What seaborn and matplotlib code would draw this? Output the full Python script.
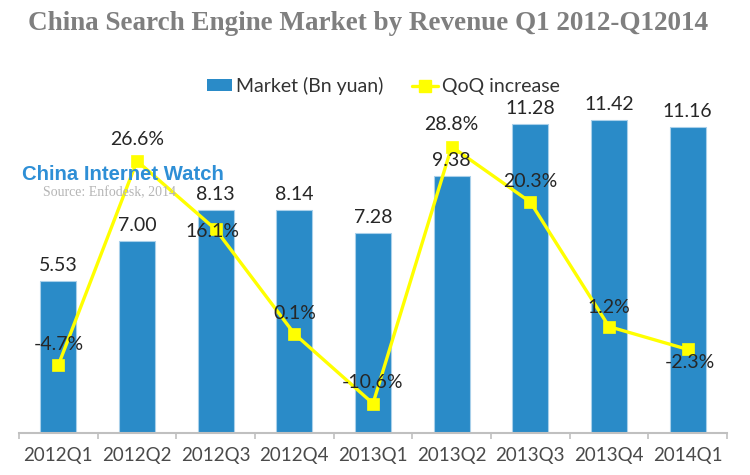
import matplotlib
matplotlib.use("Agg")
import matplotlib.pyplot as plt
from matplotlib.lines import Line2D
from matplotlib.patches import Patch
import numpy as np
import pandas as pd
import seaborn as sns

quarters = ["2012Q1", "2012Q2", "2012Q3", "2012Q4", "2013Q1", "2013Q2", "2013Q3", "2013Q4", "2014Q1"]
market = [5.53, 7.00, 8.13, 8.14, 7.28, 9.38, 11.28, 11.42, 11.16]
qoq = [-4.7, 26.6, 16.1, 0.1, -10.6, 28.8, 20.3, 1.2, -2.3]
title = "China Search Engine Market by Revenue Q1 2012-Q12014"
bar_name = "Market (Bn yuan)"
line_name = "QoQ increase"

BLUE = "#2a8bc8"
YELLOW = "#ffff00"
W, H = 750, 475

sns.set_theme(style="white")
plt.rcParams["font.family"] = ["Lato", "DejaVu Sans"]

df = pd.DataFrame({"quarter": quarters, "market": market, "qoq": qoq})
fig = plt.figure(figsize=(W / 100, H / 100), dpi=100)
ax = fig.add_axes([19 / W, (H - 433) / H, 708 / W, 384 / H])
sns.barplot(data=df, x="quarter", y="market", ax=ax, color=BLUE, saturation=1,
            width=0.46, edgecolor="#a9d0ea", linewidth=0.8)
ax.set_xlim(-0.5, 8.5)
ax.set_ylim(0, 14.0)
ax.set_xlabel("")
ax.set_ylabel("")
ax.set_yticks([])
ax.set_xticks(np.arange(-0.5, 9, 1), minor=True)
ax.set_xticks(range(9), quarters)
ax.tick_params(axis="x", which="major", length=0, labelsize=13.5, labelcolor="#4a4a4a", pad=10)
ax.tick_params(axis="x", which="minor", length=4, width=1.2, color="#c0c0c0", direction="out", bottom=True)
for s in ["top", "left", "right"]:
    ax.spines[s].set_visible(False)
ax.spines["bottom"].set_color("#c0c0c0")
ax.spines["bottom"].set_linewidth(1.5)

ax2 = ax.twinx()
ax2.patch.set_visible(False)
sns.lineplot(x=np.arange(len(qoq)), y=qoq, ax=ax2, color=YELLOW, lw=2.4, marker="s",
             markersize=8, markeredgecolor=YELLOW, markeredgewidth=0.5, errorbar=None, legend=False)
ax2.set_ylim(-15.12, 43.78)
ax2.set_yticks([])
ax2.set_ylabel("")
for s in ax2.spines.values():
    s.set_visible(False)

for i, v in enumerate(market):
    ax2.annotate(f"{v:.2f}", (i, v), xycoords=ax.transData,
                 xytext=(0, 5), textcoords="offset points", ha="center",
                 va="bottom", fontsize=14, color="#262626", zorder=6)
lab_off = [(0, 21), (0, 22), (-3, -2), (0, 20), (0, 21), (0, 22), (0, 21), (0, 19), (2, -13)]
for i, v in enumerate(qoq):
    ax2.annotate(f"{v:.1f}%", (i, v), xytext=lab_off[i], textcoords="offset pixels", ha="center",
                 va="center", fontsize=14, color="#262626", zorder=7)

handles = [Patch(facecolor=BLUE, edgecolor="none"),
           Line2D([0], [0], color=YELLOW, lw=2.4, marker="s", markersize=8, markeredgecolor=YELLOW)]
fig.legend(handles, [bar_name, line_name], loc="center", bbox_to_anchor=(383 / W, (H - 86) / H),
           ncol=2, frameon=False, fontsize=14, handlelength=1.3, handleheight=0.6,
           handletextpad=0.2, columnspacing=1.5, labelcolor="#333333")

fig.text(368 / W, (H - 23) / H, title, ha="center", va="center", fontsize=19.5, fontweight="bold",
         family="Liberation Serif", color="#7f7f7f")
fig.text(22 / W, (H - 174) / H, "China Internet Watch", ha="left", va="center", fontsize=14.6,
         fontweight="bold", family="Liberation Sans", color="#2e8fd6", zorder=10)
fig.text(43 / W, (H - 193) / H, "Source: Enfodesk, 2014", ha="left", va="center", fontsize=10,
         family="Liberation Serif", color="#b5b5b5", zorder=10)
fig.savefig("out.png", dpi=100)
